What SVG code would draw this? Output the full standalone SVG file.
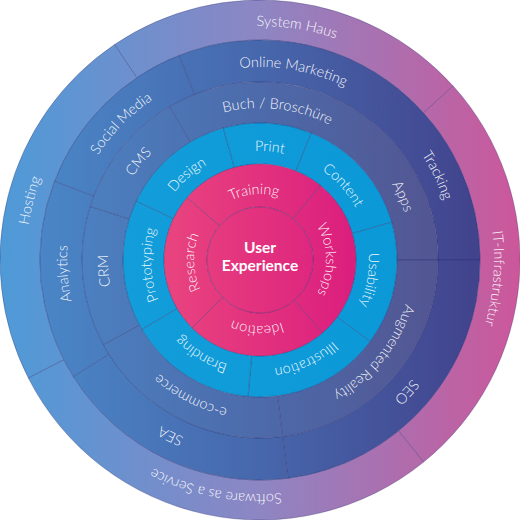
<svg xmlns="http://www.w3.org/2000/svg" xmlns:xlink="http://www.w3.org/1999/xlink" width="520" height="520" viewBox="0 0 520 520">
<style>
.seg{stroke:#2a2a6a;stroke-opacity:0.4;stroke-width:0.8}
.o{fill:url(#gOuter)}
.r5{fill:url(#gR5)}
.r4{fill:url(#gR4)}
.cy{fill:url(#gCyan)}
.pk{fill:url(#gPink)}
.lbl{font-family:Lato,"Open Sans","Liberation Sans",sans-serif;font-size:14.5px;font-weight:300;fill:#ffffff;fill-opacity:0.95}
.ctr{font-family:Lato,"Open Sans","Liberation Sans",sans-serif;font-size:15.5px;font-weight:700;fill:#ffffff;text-anchor:middle}
</style>
<defs>
<linearGradient id="gOuter" gradientUnits="userSpaceOnUse" x1="0" y1="0" x2="520" y2="0">
<stop offset="0" stop-color="#4e9ad8"/><stop offset="0.5" stop-color="#8d86c3"/><stop offset="1" stop-color="#cc579a"/>
</linearGradient>
<linearGradient id="gR5" gradientUnits="userSpaceOnUse" x1="0" y1="0" x2="520" y2="0">
<stop offset="0" stop-color="#4a8ccc"/><stop offset="0.5" stop-color="#4767ac"/><stop offset="1" stop-color="#403c86"/>
</linearGradient>
<linearGradient id="gR4" gradientUnits="userSpaceOnUse" x1="0" y1="0" x2="520" y2="0">
<stop offset="0" stop-color="#4b8aca"/><stop offset="0.5" stop-color="#4d6aaa"/><stop offset="1" stop-color="#554c86"/>
</linearGradient>
<linearGradient id="gCyan" gradientUnits="userSpaceOnUse" x1="0" y1="0" x2="520" y2="0">
<stop offset="0" stop-color="#16a0dc"/><stop offset="1" stop-color="#0896d5"/>
</linearGradient>
<linearGradient id="gPink" gradientUnits="userSpaceOnUse" x1="160" y1="0" x2="360" y2="0">
<stop offset="0" stop-color="#e9457f"/><stop offset="1" stop-color="#db1d7e"/>
</linearGradient>
<path id="t1" d="M 194 260 A 66 66 0 0 1 326 260"/>
<path id="t2" d="M 151 260 A 109 109 0 0 1 369 260"/>
<path id="t3" d="M 108 260 A 152 152 0 0 1 412 260"/>
<path id="t4" d="M 67 260 A 193 193 0 0 1 453 260"/>
<path id="t5" d="M 26 260 A 234 234 0 0 1 494 260"/>
</defs>

<g id="outer-ring">
<g id="hosting"><path class="seg o" d="M 28.34 378.04 A 260 260 0 0 1 114.61 44.46 L 136.98 77.62 A 220 220 0 0 0 63.98 359.88 Z"/>
<text class="lbl" transform="rotate(284.5 260 260)"><textPath href="#t5" startOffset="50%" text-anchor="middle">Hosting</textPath></text></g>
<g id="system-haus"><path class="seg o" d="M 114.61 44.46 A 260 260 0 0 1 453.21 86.03 L 423.48 112.80 A 220 220 0 0 0 136.98 77.62 Z"/>
<text class="lbl" transform="rotate(9 260 260)"><textPath href="#t5" startOffset="50%" text-anchor="middle">System Haus</textPath></text></g>
<g id="it-infrastruktur"><path class="seg o" d="M 453.21 86.03 A 260 260 0 0 1 423.62 462.05 L 398.45 430.96 A 220 220 0 0 0 423.48 112.80 Z"/>
<text class="lbl" transform="rotate(94.5 260 260)"><textPath href="#t5" startOffset="50%" text-anchor="middle">IT-Infrastruktur</textPath></text></g>
<g id="software-as-a-service"><path class="seg o" d="M 423.62 462.05 A 260 260 0 0 1 28.34 378.04 L 63.98 359.88 A 220 220 0 0 0 398.45 430.96 Z"/>
<text class="lbl" transform="rotate(191 260 260)"><textPath href="#t5" startOffset="50%" text-anchor="middle">Software as a Service</textPath></text></g>
</g>

<g id="ring-5">
<g id="analytics"><path class="seg r5" d="M 73.44 376.58 A 220 220 0 0 1 54.61 181.15 L 93.82 196.20 A 178 178 0 0 0 109.06 354.32 Z"/>
<text class="lbl" transform="rotate(266 260 260)"><textPath href="#t4" startOffset="50%" text-anchor="middle">Analytics</textPath></text></g>
<g id="social-media"><path class="seg r5" d="M 54.61 181.15 A 220 220 0 0 1 179.37 55.31 L 194.76 94.39 A 178 178 0 0 0 93.82 196.20 Z"/>
<text class="lbl" transform="rotate(314.5 260 260)"><textPath href="#t4" startOffset="50%" text-anchor="middle">Social Media</textPath></text></g>
<g id="online-marketing"><path class="seg r5" d="M 179.37 55.31 A 220 220 0 0 1 398.45 89.04 L 372.02 121.68 A 178 178 0 0 0 194.76 94.39 Z"/>
<text class="lbl" transform="rotate(10 260 260)"><textPath href="#t4" startOffset="50%" text-anchor="middle">Online Marketing</textPath></text></g>
<g id="tracking"><path class="seg r5" d="M 398.45 89.04 A 220 220 0 0 1 480 260 L 438 260 A 178 178 0 0 0 372.02 121.68 Z"/>
<text class="lbl" transform="rotate(64.5 260 260)"><textPath href="#t4" startOffset="50%" text-anchor="middle">Tracking</textPath></text></g>
<g id="seo"><path class="seg r5" d="M 480 260 A 220 220 0 0 1 287.96 478.22 L 282.62 436.56 A 178 178 0 0 0 438 260 Z"/>
<text class="lbl" transform="rotate(132 260 260)"><textPath href="#t4" startOffset="50%" text-anchor="middle">SEO</textPath></text></g>
<g id="sea"><path class="seg r5" d="M 287.96 478.22 A 220 220 0 0 1 73.44 376.58 L 109.06 354.32 A 178 178 0 0 0 282.62 436.56 Z"/>
<text class="lbl" transform="rotate(207 260 260)"><textPath href="#t4" startOffset="50%" text-anchor="middle">SEA</textPath></text></g>
</g>

<g id="ring-4">
<g id="crm"><path class="seg r4" d="M 103.57 344.94 A 178 178 0 0 1 90.24 206.48 L 129.34 218.80 A 137 137 0 0 0 139.60 325.38 Z"/>
<text class="lbl" transform="rotate(266 260 260)"><textPath href="#t3" startOffset="50%" text-anchor="middle">CRM</textPath></text></g>
<g id="cms"><path class="seg r4" d="M 90.24 206.48 A 178 178 0 0 1 169.66 106.64 L 190.47 141.96 A 137 137 0 0 0 129.34 218.80 Z"/>
<text class="lbl" transform="rotate(309 260 260)"><textPath href="#t3" startOffset="50%" text-anchor="middle">CMS</textPath></text></g>
<g id="buch-broschuere"><path class="seg r4" d="M 169.66 106.64 A 178 178 0 0 1 382.54 130.88 L 354.31 160.62 A 137 137 0 0 0 190.47 141.96 Z"/>
<text class="lbl" transform="rotate(6.7 260 260)"><textPath href="#t3" startOffset="50%" text-anchor="middle">Buch / Broschüre</textPath></text></g>
<g id="apps"><path class="seg r4" d="M 382.54 130.88 A 178 178 0 0 1 438 260 L 397 260 A 137 137 0 0 0 354.31 160.62 Z"/>
<text class="lbl" transform="rotate(66 260 260)"><textPath href="#t3" startOffset="50%" text-anchor="middle">Apps</textPath></text></g>
<g id="augmented-reality"><path class="seg r4" d="M 438 260 A 178 178 0 0 1 282.62 436.56 L 277.41 395.89 A 137 137 0 0 0 397 260 Z"/>
<text class="lbl" transform="rotate(129 260 260)"><textPath href="#t3" startOffset="50%" text-anchor="middle">Augmented Reality</textPath></text></g>
<g id="e-commerce"><path class="seg r4" d="M 282.62 436.56 A 178 178 0 0 1 103.57 344.94 L 139.60 325.38 A 137 137 0 0 0 277.41 395.89 Z"/>
<text class="lbl" transform="rotate(207 260 260)"><textPath href="#t3" startOffset="50%" text-anchor="middle">e-commerce</textPath></text></g>
</g>

<g id="ring-3">
<g id="prototyping"><path class="seg cy" d="M 141.96 329.53 A 137 137 0 0 1 136.34 201.02 L 173.35 218.67 A 96 96 0 0 0 177.29 308.72 Z"/>
<text class="lbl" transform="rotate(267.5 260 260)"><textPath href="#t2" startOffset="50%" text-anchor="middle">Prototyping</textPath></text></g>
<g id="design"><path class="seg cy" d="M 136.34 201.02 A 137 137 0 0 1 223.39 127.99 L 234.35 167.49 A 96 96 0 0 0 173.35 218.67 Z"/>
<text class="lbl" transform="rotate(319.5 260 260)"><textPath href="#t2" startOffset="50%" text-anchor="middle">Design</textPath></text></g>
<g id="print"><path class="seg cy" d="M 223.39 127.99 A 137 137 0 0 1 311.32 132.97 L 295.96 170.99 A 96 96 0 0 0 234.35 167.49 Z"/>
<text class="lbl" transform="rotate(5 260 260)"><textPath href="#t2" startOffset="50%" text-anchor="middle">Print</textPath></text></g>
<g id="content"><path class="seg cy" d="M 311.32 132.97 A 137 137 0 0 1 391.70 222.24 L 352.28 233.54 A 96 96 0 0 0 295.96 170.99 Z"/>
<text class="lbl" transform="rotate(48 260 260)"><textPath href="#t2" startOffset="50%" text-anchor="middle">Content</textPath></text></g>
<g id="usability"><path class="seg cy" d="M 391.70 222.24 A 137 137 0 0 1 370.13 341.49 L 337.17 317.10 A 96 96 0 0 0 352.28 233.54 Z"/>
<text class="lbl" transform="rotate(100.3 260 260)"><textPath href="#t2" startOffset="50%" text-anchor="middle">Usability</textPath></text></g>
<g id="illustration"><path class="seg cy" d="M 370.13 341.49 A 137 137 0 0 1 248.05 396.48 L 251.63 355.64 A 96 96 0 0 0 337.17 317.10 Z"/>
<text class="lbl" transform="rotate(155.3 260 260)"><textPath href="#t2" startOffset="50%" text-anchor="middle">Illustration</textPath></text></g>
<g id="branding"><path class="seg cy" d="M 248.05 396.48 A 137 137 0 0 1 141.96 329.53 L 177.29 308.72 A 96 96 0 0 0 251.63 355.64 Z"/>
<text class="lbl" transform="rotate(211.8 260 260)"><textPath href="#t2" startOffset="50%" text-anchor="middle">Branding</textPath></text></g>
</g>

<g id="ring-2">
<g id="research"><path class="seg pk" d="M 192.12 327.88 A 96 96 0 0 1 187.00 197.66 L 219.70 225.58 A 53 53 0 0 0 222.52 297.48 Z"/>
<text class="lbl" transform="rotate(268 260 260)"><textPath href="#t1" startOffset="50%" text-anchor="middle">Research</textPath></text></g>
<g id="training"><path class="seg pk" d="M 187.00 197.66 A 96 96 0 0 1 320.41 185.40 L 293.35 218.81 A 53 53 0 0 0 219.70 225.58 Z"/>
<text class="lbl" transform="rotate(355 260 260)"><textPath href="#t1" startOffset="50%" text-anchor="middle">Training</textPath></text></g>
<g id="workshops"><path class="seg pk" d="M 320.41 185.40 A 96 96 0 0 1 322.34 333.00 L 294.42 300.30 A 53 53 0 0 0 293.35 218.81 Z"/>
<text class="lbl" transform="rotate(89.5 260 260)"><textPath href="#t1" startOffset="50%" text-anchor="middle">Workshops</textPath></text></g>
<g id="ideation"><path class="seg pk" d="M 322.34 333.00 A 96 96 0 0 1 192.12 327.88 L 222.52 297.48 A 53 53 0 0 0 294.42 300.30 Z"/>
<text class="lbl" transform="rotate(182.5 260 260)"><textPath href="#t1" startOffset="50%" text-anchor="middle">Ideation</textPath></text></g>
</g>

<g id="user-experience">
<circle class="seg pk" cx="260" cy="260" r="53"/>
<text class="ctr" x="260" y="253">User</text>
<text class="ctr" x="260" y="271">Experience</text>
</g>
</svg>
